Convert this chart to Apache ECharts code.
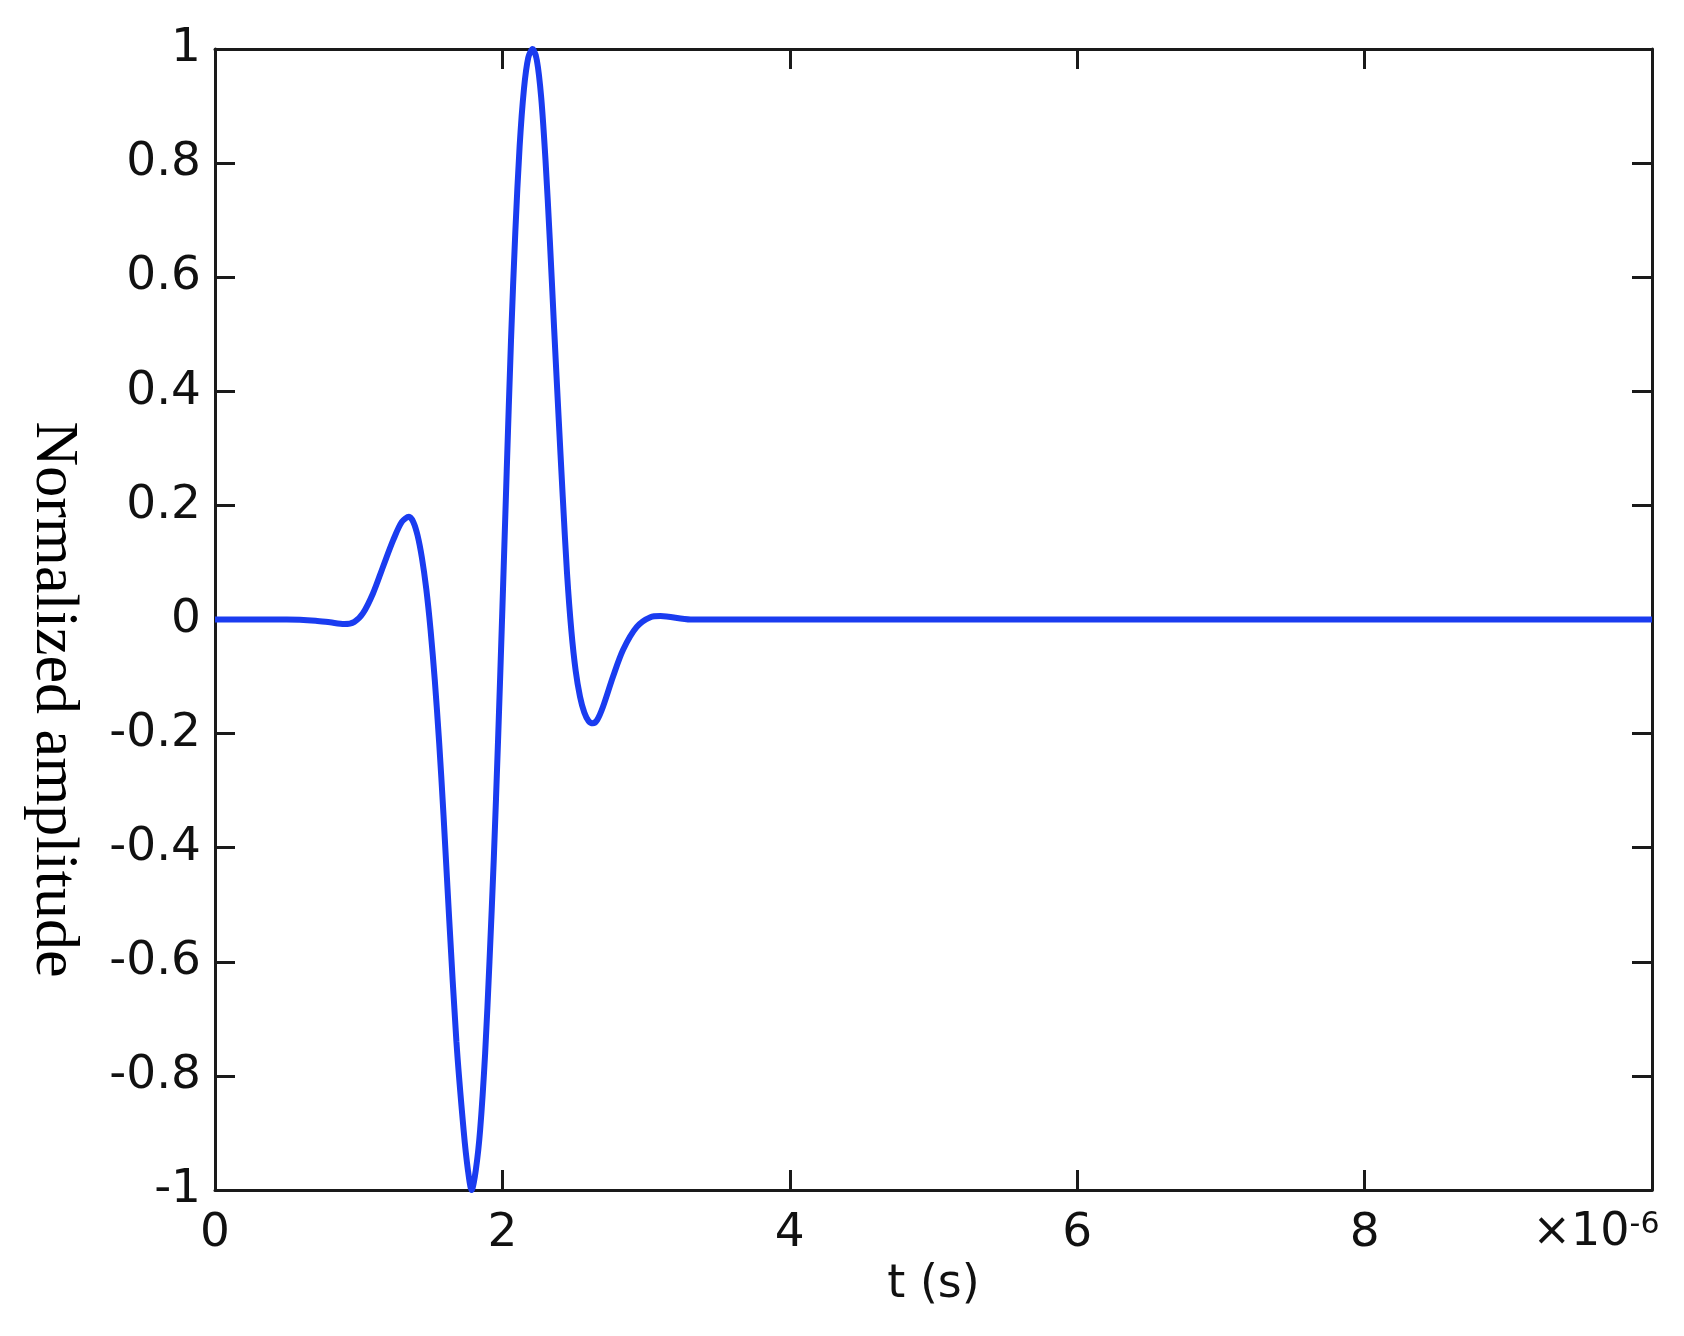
<!DOCTYPE html>
<html>
<head>
<meta charset="utf-8">
<title>Normalized amplitude</title>
<script src="https://cdn.jsdelivr.net/npm/echarts@6/dist/echarts.min.js"></script>
<style>
  html, body { margin: 0; padding: 0; background: #fff; }
  #chart { width: 1684px; height: 1336px; }
</style>
</head>
<body>
<div id="chart"></div>
<script>
// time in units of 1e-6 s
var timeUs = [
  0, 0.5, 0.7, 0.8, 0.9, 0.97, 1.03, 1.1, 1.17, 1.24, 1.3, 1.35, 1.38, 1.41,
  1.44, 1.47, 1.5, 1.53, 1.56, 1.59, 1.63, 1.68, 1.73, 1.76, 1.786, 1.815,
  1.845, 1.88, 1.91, 1.94, 1.97, 2.0, 2.03, 2.06, 2.09, 2.12, 2.15, 2.18,
  2.21, 2.24, 2.27, 2.3, 2.33, 2.36, 2.39, 2.42, 2.45, 2.48, 2.51, 2.54,
  2.57, 2.6, 2.63, 2.66, 2.7, 2.77, 2.84, 2.935, 3.03, 3.1, 3.31, 5, 10
];
var amplitude = [
  0, 0, -0.002, -0.005, -0.008, -0.004, 0.011, 0.046, 0.093, 0.139, 0.171, 0.18, 0.171, 0.147,
  0.108, 0.054, -0.018, -0.108, -0.216, -0.342, -0.526, -0.74, -0.895, -0.965, -1, -0.965,
  -0.895, -0.76, -0.6, -0.42, -0.21, 0.02, 0.26, 0.49, 0.68, 0.83, 0.93, 0.985,
  1, 0.98, 0.915, 0.805, 0.665, 0.51, 0.36, 0.215, 0.08, -0.02, -0.09, -0.135,
  -0.163, -0.178, -0.182, -0.176, -0.153, -0.1, -0.053, -0.013, 0.004, 0.006, 0, 0, 0
];
var xTicks = [0, 2, 4, 6, 8, 10];
var yTicks = [-1, -0.8, -0.6, -0.4, -0.2, 0, 0.2, 0.4, 0.6, 0.8, 1];

var points = timeUs.map(function (t, i) { return [t, amplitude[i]]; });

var axisColor = "#1a1a1a";
var labelFont = "DejaVu Sans";

function frameAxis(extra) {
  var base = {
    axisLine: { show: true, onZero: false, lineStyle: { color: axisColor, width: 3 } },
    axisTick: { show: true, inside: true, length: 20, lineStyle: { color: axisColor, width: 3 } },
    splitLine: { show: false },
    axisLabel: { show: false }
  };
  return Object.assign(base, extra);
}

var chart = echarts.init(document.getElementById("chart"));
var option = {
  animation: false,
  backgroundColor: "#fff",
  grid: { left: 215, right: 32, top: 49, bottom: 146 },
  xAxis: [
    frameAxis({
      type: "value",
      position: "bottom",
      min: xTicks[0],
      max: xTicks[xTicks.length - 1],
      interval: 2,
      name: "t (s)",
      nameLocation: "middle",
      nameGap: 60,
      nameTextStyle: { fontFamily: labelFont, fontSize: 46, color: "#111" },
      axisLabel: {
        show: true,
        margin: 20,
        fontFamily: labelFont,
        fontSize: 47,
        color: "#111",
        formatter: function (v) {
          if (v === 10) return "{m|×10}{e|-6}";
          return String(v);
        },
        rich: {
          m: { fontFamily: labelFont, fontSize: 46, color: "#111" },
          e: { fontFamily: labelFont, fontSize: 30, color: "#111", verticalAlign: "top", padding: [0, 112, 4, 0] }
        }
      }
    }),
    frameAxis({
      type: "value",
      position: "top",
      min: xTicks[0],
      max: xTicks[xTicks.length - 1],
      interval: 2
    })
  ],
  yAxis: [
    frameAxis({
      type: "value",
      position: "left",
      min: yTicks[0],
      max: yTicks[yTicks.length - 1],
      interval: 0.2,
      name: "Normalized amplitude",
      nameLocation: "middle",
      nameRotate: -90,
      nameGap: 131,
      nameTextStyle: {
        fontFamily: "Liberation Serif",
        fontSize: 62,
        color: "#000",
        padding: [0, 0, 0, 160]
      },
      axisLabel: {
        show: true,
        margin: 14,
        fontFamily: labelFont,
        fontSize: 47,
        color: "#111",
        formatter: function (v) { return String(Math.round(v * 10) / 10); }
      }
    }),
    frameAxis({
      type: "value",
      position: "right",
      min: yTicks[0],
      max: yTicks[yTicks.length - 1],
      interval: 0.2
    })
  ],
  series: [
    {
      type: "line",
      data: points,
      smooth: 0.3,
      symbol: "none",
      lineStyle: { color: "#1a3cf0", width: 6 }
    }
  ]
};
chart.setOption(option);
</script>
</body>
</html>
